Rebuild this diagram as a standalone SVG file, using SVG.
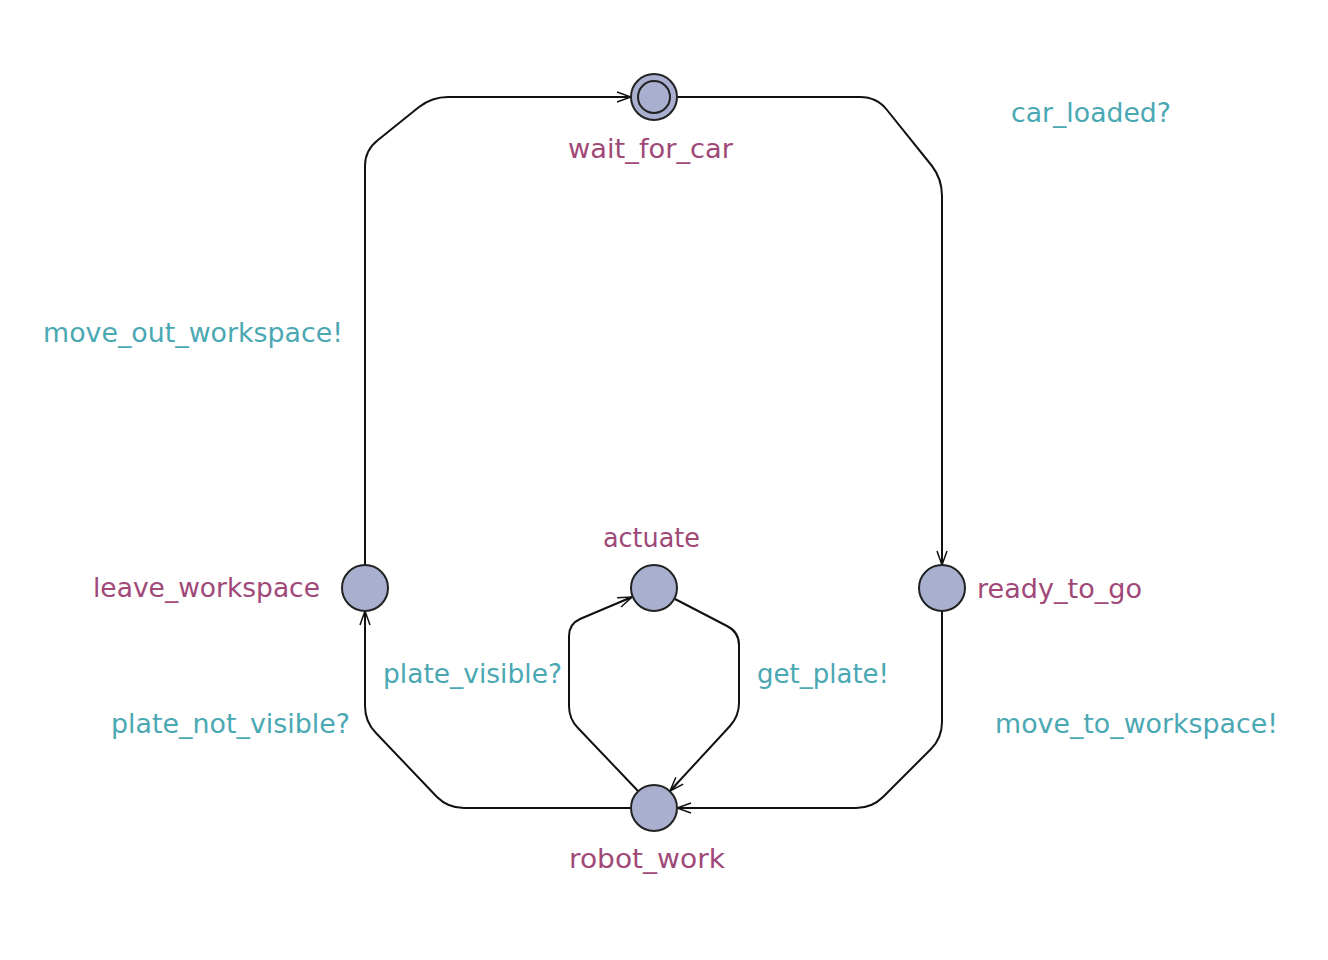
<svg xmlns="http://www.w3.org/2000/svg" width="1328" height="960" viewBox="0 0 1328 960">
<style>
.loc{fill:#a8afcf;stroke:#222;stroke-width:2}
.edge{fill:none;stroke:#111;stroke-width:2}
.name{font-family:"DejaVu Sans",sans-serif;font-size:26px;fill:#a04878}
.lbl{font-family:"DejaVu Sans",sans-serif;font-size:26px;fill:#4aa8b3}
</style>
<defs>
<marker id="arr" viewBox="-15 -7 17 14" refX="0" refY="0" markerWidth="17" markerHeight="14" markerUnits="userSpaceOnUse" orient="auto">
<path d="M-14,-5 L0,0 L-14,5 M-12,0 L0,0" fill="none" stroke="#111" stroke-width="1.5"/>
</marker>
</defs>
<rect width="1328" height="960" fill="#fff"/>
<g id="connectors">
<path class="edge" marker-end="url(#arr)" d="M677,97 L860,97 Q877,97 887,110 L932,166 Q942,179 942,196 L942,565"/>
<path class="edge" marker-end="url(#arr)" d="M942,611 L942,722 Q942,738 931,749 L883,797 Q872,808 856,808 L677,808"/>
<path class="edge" marker-end="url(#arr)" d="M631,808 L464,808 Q448,808 437,797 L376,733 Q365,722 365,706 L365,611"/>
<path class="edge" marker-end="url(#arr)" d="M365,565 L365,166 Q365,150 378,140 L419,107 Q432,97 448,97 L631,97"/>
<path class="edge" marker-end="url(#arr)" d="M638,791 L578,728 Q569,719 569,706 L569,636 Q569,624 580,619 L632,597"/>
<path class="edge" marker-end="url(#arr)" d="M675,599 L727,626 Q739,632 739,645 L739,703 Q739,716 730,726 L670,791"/>
</g>
<g id="wait_for_car">
<circle class="loc" cx="654" cy="97" r="23"/>
<circle cx="654" cy="97" r="16" fill="none" stroke="#222" stroke-width="2"/>
<text class="name" x="568" y="158" textLength="165" lengthAdjust="spacingAndGlyphs">wait_for_car</text>
</g>
<g id="leave_workspace">
<circle class="loc" cx="365" cy="588" r="23"/>
<text class="name" x="93" y="597" textLength="227" lengthAdjust="spacingAndGlyphs">leave_workspace</text>
</g>
<g id="actuate">
<circle class="loc" cx="654" cy="588" r="23"/>
<text class="name" x="603" y="547" textLength="97" lengthAdjust="spacingAndGlyphs">actuate</text>
</g>
<g id="ready_to_go">
<circle class="loc" cx="942" cy="588" r="23"/>
<text class="name" x="977" y="598" textLength="165" lengthAdjust="spacingAndGlyphs">ready_to_go</text>
</g>
<g id="robot_work">
<circle class="loc" cx="654" cy="808" r="23"/>
<text class="name" x="569" y="868" textLength="156" lengthAdjust="spacingAndGlyphs">robot_work</text>
</g>
<g id="labels">
<text class="lbl" x="1011" y="122" textLength="160" lengthAdjust="spacingAndGlyphs">car_loaded?</text>
<text class="lbl" x="43" y="342" textLength="300" lengthAdjust="spacingAndGlyphs">move_out_workspace!</text>
<text class="lbl" x="383" y="683" textLength="179" lengthAdjust="spacingAndGlyphs">plate_visible?</text>
<text class="lbl" x="757" y="683" textLength="132" lengthAdjust="spacingAndGlyphs">get_plate!</text>
<text class="lbl" x="111" y="733" textLength="239" lengthAdjust="spacingAndGlyphs">plate_not_visible?</text>
<text class="lbl" x="995" y="733" textLength="283" lengthAdjust="spacingAndGlyphs">move_to_workspace!</text>
</g>
</svg>
